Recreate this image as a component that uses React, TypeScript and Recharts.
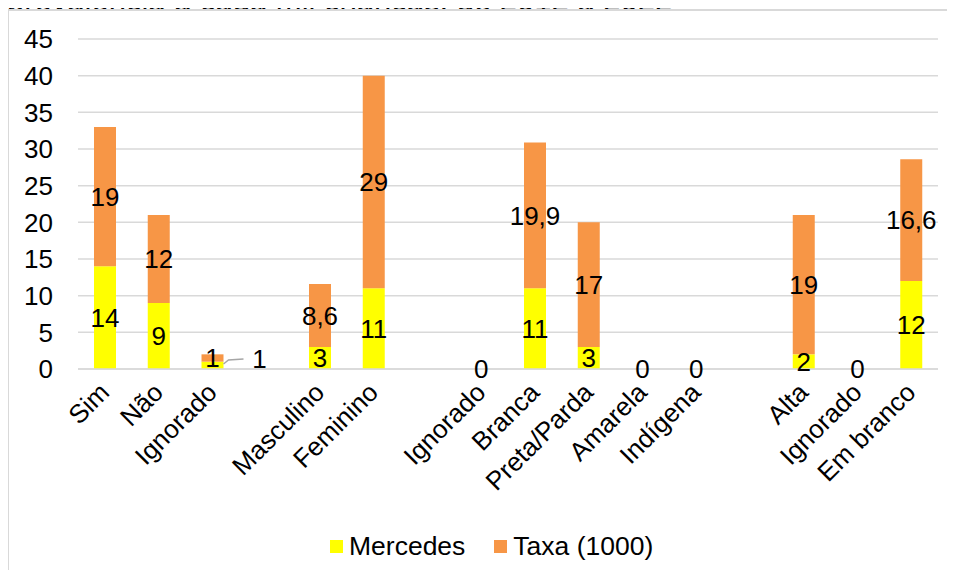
import { ComposedChart, Bar, Line, XAxis, YAxis, CartesianGrid, Legend, LabelList } from 'recharts'

const categories = [
  'Sim', 'Não', 'Ignorado', '',
  'Masculino', 'Feminino', '',
  'Ignorado', 'Branca', 'Preta/Parda', 'Amarela', 'Indígena', '',
  'Alta', 'Ignorado', 'Em branco',
]
const mercedes = [14, 9, 1, null, 3, 11, null, 0, 11, 3, 0, 0, null, 2, 0, 12]
const taxa = [19, 12, 1, null, 8.6, 29, null, 0, 19.9, 17, 0, 0, null, 19, 0, 16.6]
const yTicks = [0, 5, 10, 15, 20, 25, 30, 35, 40, 45]
const seriesNames = ['Mercedes', 'Taxa (1000)']

const FONT = '"Liberation Sans", Arial, sans-serif'
const FS = 26
const YELLOW = '#FFFF00'
const ORANGE = '#F79646'
const GRID = '#D9D9D9'

const data = categories.map((name, i) => ({
  name,
  mercedes: mercedes[i],
  taxa: taxa[i],
  // empty bars still get their "0" label in the original
  zero: mercedes[i] === 0 && taxa[i] === 0 ? 0 : null,
}))

const fmt = (v: number) => String(v).replace('.', ',')

const XTick = ({ x, y, payload }: any) => (
  <g transform={`translate(${x},${y})`}>
    <text
      x={0}
      y={0}
      transform="translate(6,25) rotate(-45)"
      textAnchor="end"
      fontSize={FS}
      fontFamily={FONT}
      fill="#000"
    >
      {payload.value}
    </text>
  </g>
)

const MercLabel = (props: any) => {
  const { x, y, width, height, value } = props
  if (!value) return null
  let cy = y + height / 2
  // tiny segments: label gets nudged up
  if (height > 0 && height < 10) cy = y + height - 11
  return (
    <text x={x + width / 2} y={cy} dy="0.36em" textAnchor="middle" fontSize={FS} fontFamily={FONT} fill="#000">
      {fmt(value)}
    </text>
  )
}

const TaxaLabel = (props: any) => {
  const { x, y, width, height, value } = props
  if (!value) return null
  const cy = y + height / 2
  if (height < 10) {
    // callout with leader line when the segment is too small
    const bx = x + width
    return (
      <g>
        <polyline
          points={`${bx},${cy + 6} ${bx + 5},${cy + 2} ${bx + 20},${cy + 1}`}
          fill="none"
          stroke="#A6A6A6"
          strokeWidth={1.5}
        />
        <text x={bx + 36} y={cy + 1} dy="0.36em" textAnchor="middle" fontSize={FS} fontFamily={FONT} fill="#000">
          {fmt(value)}
        </text>
      </g>
    )
  }
  return (
    <text x={x + width / 2} y={cy} dy="0.36em" textAnchor="middle" fontSize={FS} fontFamily={FONT} fill="#000">
      {fmt(value)}
    </text>
  )
}

const ZeroLabel = (props: any) => {
  const { x, y, value } = props
  if (value === null || value === undefined) return null
  return (
    <text x={x} y={y} dy="0.36em" textAnchor="middle" fontSize={FS} fontFamily={FONT} fill="#000">
      {fmt(value)}
    </text>
  )
}

const renderLegend = () => {
  const colors = [YELLOW, ORANGE]
  return (
    <div style={{ display: 'flex', alignItems: 'center', fontFamily: FONT, fontSize: 26.5, color: '#000', whiteSpace: 'nowrap' }}>
      {seriesNames.map((n, i) => (
        <div key={n} style={{ display: 'flex', alignItems: 'center', marginRight: i === 0 ? 29 : 0 }}>
          <span style={{ display: 'inline-block', width: 13, height: 13, background: colors[i], marginRight: 6 }} />
          <span>{n}</span>
        </div>
      ))}
    </div>
  )
}

export default function App() {
  return (
    <div style={{ position: 'relative', width: 955, height: 578, margin: -8, overflow: 'hidden', background: '#fff' }}>
      <svg width={955} height={40} style={{ position: 'absolute', left: 0, top: 0 }}>
        <text x={7} y={11} fontSize={31} fontFamily={FONT} fill="#000">
          prevalência a cada mil crianças, de 2012 a 2022
        </text>
      </svg>
      {/* chart area box sits over the title, like the clipped original */}
      <div
        style={{
          position: 'absolute', left: 7, top: 9, width: 1000, height: 1000, background: '#fff',
          borderLeft: `2px solid ${GRID}`, borderTop: `2px solid ${GRID}`,
        }}
      />
      <div style={{ position: 'absolute', left: 0, top: 0 }}>
        <ComposedChart width={955} height={578} data={data} margin={{ top: 39, right: 17, left: 0, bottom: 79 }}>
          <CartesianGrid horizontal vertical={false} stroke={GRID} strokeWidth={1.5} />
          <XAxis
            dataKey="name"
            interval={0}
            height={130}
            tickLine={false}
            tickSize={0}
            tickMargin={0}
            axisLine={{ stroke: GRID, strokeWidth: 1.5 }}
            tick={<XTick />}
          />
          <YAxis
            domain={[0, 45]}
            ticks={yTicks}
            width={78}
            tickLine={false}
            axisLine={false}
            tickSize={0}
            tickMargin={25}
            tick={{ fontSize: FS, fill: '#000', fontFamily: FONT }}
          />
          <Legend
            layout="horizontal"
            verticalAlign="middle"
            align="center"
            content={renderLegend}
            wrapperStyle={{ top: 531, left: 330, width: 'auto' }}
          />
          <Bar dataKey="mercedes" name="Mercedes" stackId="a" fill={YELLOW} barSize={22} isAnimationActive={false}>
            <LabelList dataKey="mercedes" content={MercLabel} />
          </Bar>
          <Bar dataKey="taxa" name="Taxa (1000)" stackId="a" fill={ORANGE} barSize={22} isAnimationActive={false}>
            <LabelList dataKey="taxa" content={TaxaLabel} />
          </Bar>
          <Line
            dataKey="zero"
            stroke="none"
            dot={false}
            activeDot={false}
            legendType="none"
            connectNulls={false}
            isAnimationActive={false}
          >
            <LabelList dataKey="zero" content={ZeroLabel} />
          </Line>
        </ComposedChart>
      </div>
    </div>
  )
}
